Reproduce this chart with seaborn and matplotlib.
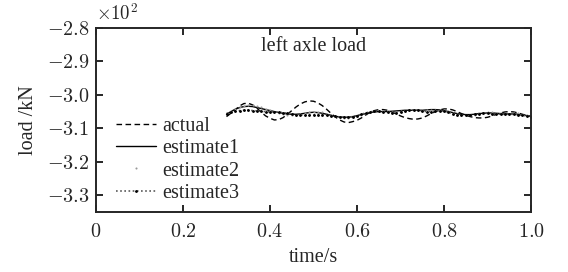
import numpy as np
import pandas as pd
import matplotlib
matplotlib.use('Agg')
import matplotlib.pyplot as plt
from matplotlib.ticker import FuncFormatter
import seaborn as sns

# time grid (s) and loads (kN)
time = np.round(np.linspace(0.30, 1.00, 71), 2)

actual = [-306.5, -305.5, -304.5, -303.3, -302.6, -302.5, -303.0, -304.0, -305.2, -306.3,
          -307.0, -307.5, -307.4, -306.8, -305.8, -304.7, -303.6, -302.7, -302.1, -301.8,
          -301.9, -302.4, -303.2, -304.3, -305.5, -306.6, -307.5, -308.1, -308.3, -308.0,
          -307.6, -306.9, -306.0, -305.2, -304.7, -304.4, -304.4, -304.6, -305.1, -305.7,
          -306.3, -306.8, -307.1, -307.3, -307.2, -306.9, -306.3, -305.6, -305.0, -304.5,
          -304.2, -304.2, -304.5, -305.0, -305.6, -306.1, -306.5, -306.8, -306.9, -306.9,
          -306.7, -306.3, -305.8, -305.4, -305.1, -305.0, -305.1, -305.4, -305.8, -306.2,
          -306.5]

estimate1 = [-305.8, -305.0, -304.3, -303.8, -303.5, -303.4, -303.5, -303.8, -304.1, -304.4,
             -304.7, -305.0, -305.3, -305.5, -305.7, -305.8, -305.8, -305.7, -305.5, -305.3,
             -305.2, -305.3, -305.5, -305.8, -306.1, -306.4, -306.6, -306.7, -306.7, -306.5,
             -306.2, -305.9, -305.6, -305.3, -305.1, -305.0, -305.0, -305.0, -304.9, -304.8,
             -304.7, -304.6, -304.6, -304.6, -304.6, -304.6, -304.5, -304.4, -304.4, -304.5,
             -304.7, -305.0, -305.3, -305.6, -305.8, -305.9, -305.9, -305.8, -305.6, -305.5,
             -305.4, -305.4, -305.5, -305.6, -305.7, -305.7, -305.7, -305.8, -306.0, -306.2,
             -306.4]

estimate2 = [-305.4, -304.8, -304.2, -303.7, -303.3, -303.1, -303.1, -303.3, -303.7, -304.1,
             -304.6, -305.0, -305.4, -305.7, -305.9, -306.0, -306.0, -305.8, -305.5, -305.2,
             -305.0, -305.0, -305.2, -305.6, -306.0, -306.4, -306.7, -306.9, -306.9, -306.7,
             -306.4, -306.0, -305.6, -305.2, -304.9, -304.8, -304.8, -304.9, -305.0, -305.0,
             -304.9, -304.7, -304.5, -304.4, -304.4, -304.5, -304.6, -304.6, -304.5, -304.5,
             -304.6, -304.9, -305.3, -305.7, -306.0, -306.1, -306.1, -305.9, -305.6, -305.3,
             -305.2, -305.2, -305.3, -305.5, -305.6, -305.6, -305.5, -305.5, -305.7, -306.0,
             -306.3]

estimate3 = [-305.6, -305.2, -304.9, -304.7, -304.6, -304.6, -304.7, -304.8, -304.9, -305.0,
             -305.1, -305.1, -305.2, -305.3, -305.5, -305.7, -305.9, -306.0, -306.1, -306.1,
             -306.0, -305.9, -305.9, -306.0, -306.2, -306.4, -306.6, -306.7, -306.7, -306.5,
             -306.2, -305.8, -305.4, -305.1, -304.9, -304.9, -305.0, -305.2, -305.3, -305.3,
             -305.1, -304.8, -304.6, -304.5, -304.6, -304.8, -305.0, -305.0, -304.9, -304.8,
             -304.9, -305.2, -305.6, -305.9, -306.1, -306.1, -306.0, -305.8, -305.6, -305.5,
             -305.5, -305.6, -305.7, -305.8, -305.8, -305.8, -305.8, -305.9, -306.1, -306.3,
             -306.5]

df = pd.DataFrame({'time': time, 'actual': actual, 'estimate1': estimate1,
                   'estimate2': estimate2, 'estimate3': estimate3})

sns.set_style('ticks')
plt.rcParams['font.family'] = ['Liberation Serif', 'DejaVu Serif']
plt.rcParams['mathtext.fontset'] = 'cm'
plt.rcParams['axes.formatter.use_mathtext'] = True

fig = plt.figure(figsize=(5.68, 2.72), dpi=100)
ax = fig.add_axes([0.169, 0.221, 0.766, 0.676])

sns.lineplot(data=df, x='time', y='actual', ax=ax, color='black', lw=1.0,
             linestyle=(0, (4, 2.5)), label='actual')
sns.lineplot(data=df, x='time', y='estimate1', ax=ax, color='black', lw=1.0,
             label='estimate1')
sns.lineplot(data=df, x='time', y='estimate2', ax=ax, color='0.6', linestyle='none',
             marker='.', markersize=3, markeredgewidth=0, label='estimate2')
sns.lineplot(data=df, x='time', y='estimate3', ax=ax, color='0.35', lw=1.2,
             linestyle=(0, (1, 1.5)), marker='.', markersize=2.5,
             markerfacecolor='black', markeredgecolor='black', label='estimate3')

ax.set_xlim(0, 1.0)
ax.set_ylim(-335, -280)
ax.set_xticks([0, 0.2, 0.4, 0.6, 0.8, 1.0])
ax.set_yticks([-280, -290, -300, -310, -320, -330])
ax.xaxis.set_major_formatter(FuncFormatter(lambda v, p: '$0$' if v == 0 else f'${v:.1f}$'))
ax.yaxis.set_major_formatter(FuncFormatter(lambda v, p: f'$-{abs(v) / 100:.1f}$'))
ax.tick_params(direction='in', length=5, width=1.4, top=True, right=True,
               labelsize=14.5, pad=5)
ax.tick_params(axis='x', pad=8)
for s in ax.spines.values():
    s.set_linewidth(1.4)

ax.set_xlabel('time/s', fontsize=14.5, labelpad=4)
ax.set_ylabel('load /kN', fontsize=14.5, labelpad=6)
ax.text(0.5, 0.9, 'left axle load', transform=ax.transAxes, ha='center', va='center',
        fontsize=14.5)
ax.text(0.0, 1.02, r'$\times10^2$', transform=ax.transAxes, ha='left', va='bottom',
        fontsize=13.5)

ax.legend(loc='lower left', bbox_to_anchor=(0.025, 0.0), frameon=False, fontsize=14.5,
          handlelength=2.0, handletextpad=0.3, labelspacing=0.16, borderaxespad=0.05)

fig.savefig('out.png', dpi=100)
